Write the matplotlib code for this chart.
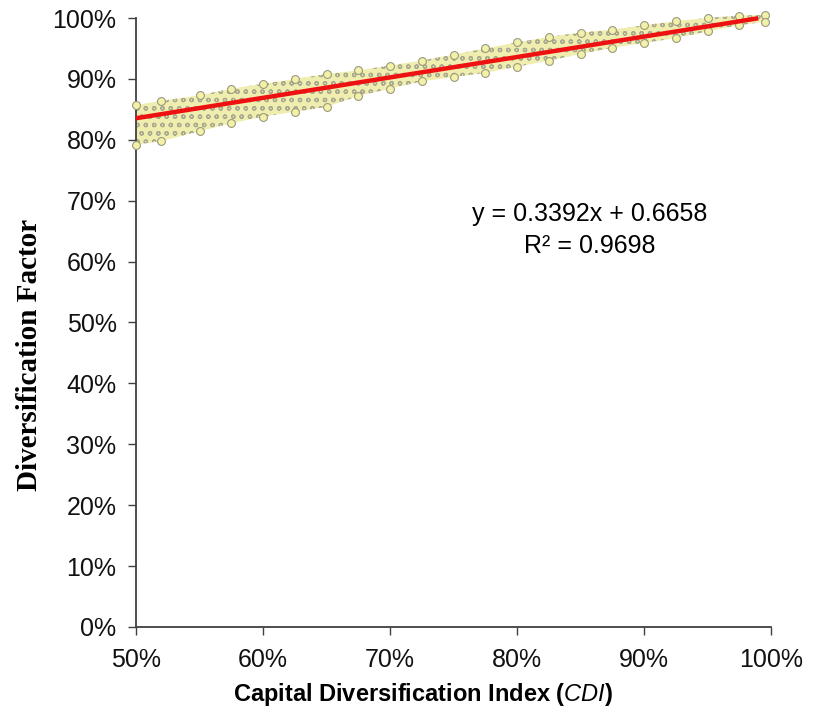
import matplotlib
matplotlib.use('Agg')
import matplotlib.pyplot as plt
from matplotlib.ticker import PercentFormatter, MultipleLocator

# envelope of the scatter cloud (fractions)
cdi = [0.50, 0.52, 0.55, 0.575, 0.60, 0.625, 0.65, 0.675, 0.70, 0.725, 0.75,
       0.775, 0.80, 0.825, 0.85, 0.875, 0.90, 0.925, 0.95, 0.975, 0.995]
df_upper = [0.857, 0.864, 0.873, 0.884, 0.892, 0.900, 0.908, 0.914, 0.922, 0.930, 0.940,
            0.950, 0.960, 0.969, 0.976, 0.981, 0.988, 0.995, 1.000, 1.004, 1.005]
df_lower = [0.792, 0.798, 0.814, 0.827, 0.838, 0.846, 0.854, 0.872, 0.884, 0.896, 0.903,
            0.910, 0.920, 0.930, 0.941, 0.951, 0.959, 0.967, 0.978, 0.988, 0.994]

# linear trend line endpoints
trend_x = [0.50, 0.99]
trend_y = [0.8354, 0.9996]
eq_text = 'y = 0.3392x + 0.6658'
r2_text = 'R\u00b2 = 0.9698'

plt.rcParams['font.family'] = ['Liberation Sans', 'DejaVu Sans']
plt.rcParams['mathtext.fontset'] = 'custom'
plt.rcParams['mathtext.it'] = 'Liberation Sans:italic'
plt.rcParams['mathtext.rm'] = 'Liberation Sans'
plt.rcParams['hatch.linewidth'] = 0.9

W, H = 816, 711
fig = plt.figure(figsize=(W / 100, H / 100), dpi=100)
ax = fig.add_axes([136 / W, 1 - 627 / H, (771 - 136) / W, (627 - 18) / H])

ax.fill_between(cdi, df_lower, df_upper, facecolor='#f0eeae', edgecolor='#aaaa90',
                hatch='oo', linewidth=0, clip_on=False, zorder=2)
ax.scatter(cdi + cdi, df_upper + df_lower, s=32, marker='o', facecolor='#f3f1a8',
           edgecolor='#9a9a80', linewidth=0.8, clip_on=False, zorder=3)
ax.plot(trend_x, trend_y, color='#ee1111', linewidth=3.2, solid_capstyle='butt',
        clip_on=False, zorder=4)

ax.set_xlim(0.5, 1.0)
ax.set_ylim(0.0, 1.0)
ax.xaxis.set_major_locator(MultipleLocator(0.1))
ax.yaxis.set_major_locator(MultipleLocator(0.1))
ax.xaxis.set_major_formatter(PercentFormatter(1.0, decimals=0))
ax.yaxis.set_major_formatter(PercentFormatter(1.0, decimals=0))

for side in ['top', 'right']:
    ax.spines[side].set_visible(False)
for side in ['left', 'bottom']:
    ax.spines[side].set_color('#404040')
    ax.spines[side].set_linewidth(1.3)

ax.tick_params(axis='both', direction='out', length=6, width=1.0, color='#404040',
               labelsize=18, labelcolor='#111111')
ax.tick_params(axis='x', pad=9)
ax.tick_params(axis='y', pad=8)

fig.text(30 / W, 1 - 355 / H, 'Diversification Factor', rotation=90,
         ha='center', va='center', fontsize=21, fontweight='bold',
         family=['Liberation Serif', 'DejaVu Serif'])
fig.text(423 / W, 1 - 695 / H,
         r'Capital Diversification Index ($\mathit{CDI}$)',
         ha='center', va='center', fontsize=17, fontweight='bold')

ax.text(0.857, 0.678, eq_text, ha='center', va='center', fontsize=18)
ax.text(0.857, 0.626, r2_text, ha='center', va='center', fontsize=18)

fig.savefig('out.png', dpi=100)
